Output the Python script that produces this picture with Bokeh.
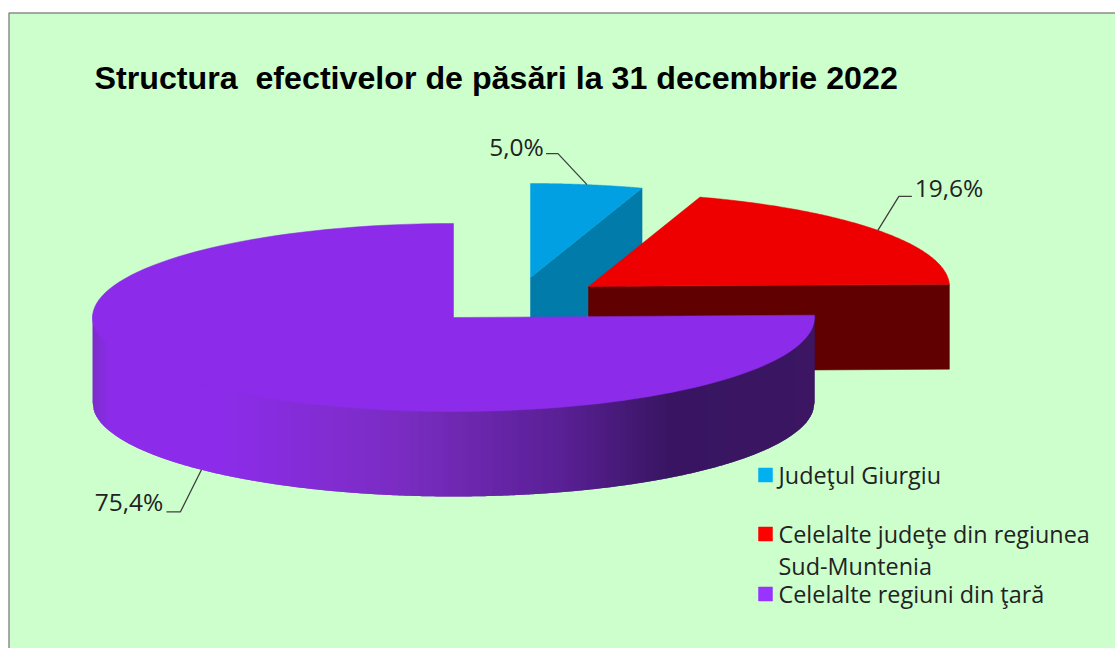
import math
from bokeh.embed import file_html
from bokeh.resources import INLINE
from bokeh.plotting import figure
from bokeh.core.properties import value

# ---- data ----
title_text = "Structura\u00a0 efectivelor de păsări la 31 decembrie 2022"
categories = ["Judeţul Giurgiu", "Celelalte judeţe din regiunea", "Celelalte regiuni din ţară"]
legend_extra = "Sud-Muntenia"
values = [5.0, 19.6, 75.4]
value_labels = ["5,0%", "19,6%", "75,4%"]

# ---- style ----
BG = "#CCFFCC"
TOP = ["#00A0E2", "#EE0000", "#8C2CEA"]
FACE = ["#007BAA", "#600000", "#3A1660"]
LEG = ["#00B0F0", "#FF0000", "#9933FF"]
TXT = "#222222"
RX, RY, DEPTH = 361, 94, 85
CENTRES = [(530, 277), (588, 286), (453, 317)]
GRAD = [(92, (124, 45, 203)), (110, (140, 44, 234)), (220, (140, 44, 234)),
        (400, (123, 45, 194)), (560, (90, 32, 149)), (670, (56, 21, 98)), (814, (60, 23, 99))]

W, H = 1115, 648
p = figure(width=W, height=H, x_range=(0, W), y_range=(H, 0), output_backend="svg",
           toolbar_location=None, min_border=0, outline_line_color=None,
           background_fill_color="white", border_fill_color="white")
p.axis.visible = False
p.grid.visible = False

# background panel
p.quad(left=[8.5], right=[1130], top=[12.5], bottom=[660], fill_color=BG,
       line_color="#8C8C8C", line_width=1.5)

# slice angles (clockwise from 12 o'clock)
total = sum(values)
bounds = [0.0]
for v in values:
    bounds.append(bounds[-1] + 360.0 * v / total)


def pt(c, deg, dy=0.0):
    a = math.radians(deg)
    return c[0] + RX * math.sin(a), c[1] - RY * math.cos(a) + dy


def arc(c, a0, a1, n=120, dy=0.0):
    pts = [pt(c, a0 + (a1 - a0) * i / n, dy) for i in range(n + 1)]
    return [q[0] for q in pts], [q[1] for q in pts]


def grad(x):
    for (x0, c0), (x1, c1) in zip(GRAD, GRAD[1:]):
        if x <= x1:
            f = max(0.0, (x - x0) / (x1 - x0))
            return "#%02x%02x%02x" % tuple(round(c0[k] + (c1[k] - c0[k]) * f) for k in range(3))
    return "#%02x%02x%02x" % GRAD[-1][1]


def radial_face(c, deg):
    ex, ey = pt(c, deg)
    return [c[0], ex, ex, c[0]], [c[1], ey, ey + DEPTH, c[1] + DEPTH]


def top_face(i):
    c = CENTRES[i]
    ax, ay = arc(c, bounds[i], bounds[i + 1])
    return [c[0]] + ax, [c[1]] + ay


# blue slice
fx, fy = radial_face(CENTRES[0], bounds[1])
p.patch(fx, fy, fill_color=FACE[0], line_color=FACE[0], line_width=0.5)
tx, ty = top_face(0)
p.patch(tx, ty, fill_color=TOP[0], line_color=TOP[0], line_width=0.5)

# red slice
fx, fy = radial_face(CENTRES[1], bounds[2])
p.patch(fx, fy, fill_color=FACE[1], line_color=FACE[1], line_width=0.5)
tx, ty = top_face(1)
p.patch(tx, ty, fill_color=TOP[1], line_color=TOP[1], line_width=0.5)

# purple wall, shaded in strips one pixel wide, each overlapped by the next
c = CENTRES[2]
def lower(x):
    d = max(-1.0, min(1.0, (x - c[0]) / RX))
    return c[1] + RY * math.sqrt(1 - d * d)

xs, ys, cols = [], [], []
for x in range(c[0] - RX, c[0] + RX):
    x1 = min(x + 2, c[0] + RX)
    xs.append([x, x1, x1, x])
    ys.append([lower(x) - 4, lower(x1) - 4, lower(x1) + DEPTH, lower(x) + DEPTH])
    cols.append(grad(x + 0.5))
p.patches(xs, ys, fill_color=cols, line_color=None)

# purple top
tx, ty = top_face(2)
p.patch(tx, ty, fill_color=TOP[2], line_color=TOP[2], line_width=0.5)

# leader lines, anchored at the middle of each slice
mids = [(bounds[i] + bounds[i + 1]) / 2 for i in range(3)]
anchors = [pt(CENTRES[0], mids[0]), pt(CENTRES[1], mids[1]), pt(CENTRES[2], mids[2], DEPTH)]
elbows = [(-29, -31), (21, -34), (-21, 42)]
ends = [(-12, 0), (13, 0), (-14, 0)]
for (ax, ay), (ex, ey), (dx, dy) in zip(anchors, elbows, ends):
    p.line([ax, ax + ex, ax + ex + dx], [ay, ay + ey, ay + ey + dy], line_color="#404040", line_width=1.3)

# value labels
FONT = "Open Sans"
lab_x = [516, 948.5, 128.5]
lab_y = [146, 187, 501]
p.text(lab_x, lab_y, text=value_labels, text_font=value(FONT), text_font_size="24.5px",
       text_color=TXT, text_align="center", text_baseline="middle")

# title
p.text([94], [77], text=[title_text], text_font=value("Liberation Sans"), text_font_style="bold",
       text_font_size="32.2px", text_color="#000000", text_align="left", text_baseline="alphabetic")

# legend
leg_y = [474.5, 533.5, 593.5]
p.rect([765] * 3, leg_y, width=14, height=14, fill_color=LEG, line_color=LEG, line_width=0.5)
text_y = [474, 533, 593]
p.text([778] * 3, text_y, text=categories, text_font=value(FONT), text_font_size="23.4px",
       text_color=TXT, text_align="left", text_baseline="alphabetic")
p.text([778], [565], text=[legend_extra], text_font=value(FONT), text_font_size="23.4px",
       text_color=TXT, text_align="left", text_baseline="alphabetic")

open("out.html", "w").write(file_html(p, INLINE))
